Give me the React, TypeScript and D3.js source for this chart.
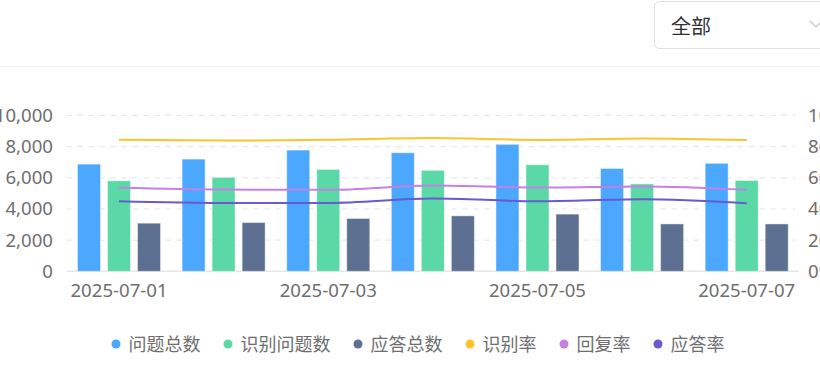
import React from "react";
import * as d3 from "d3";

const dates = ["2025-07-01", "2025-07-02", "2025-07-03", "2025-07-04", "2025-07-05", "2025-07-06", "2025-07-07"];
const totalQuestions = [6880, 7200, 7780, 7610, 8150, 6600, 6930];
const recognizedQuestions = [5810, 6030, 6540, 6480, 6840, 5610, 5830];
const totalAnswers = [3090, 3130, 3390, 3560, 3670, 3040, 3040];
const recognitionRate = [84.5, 83.9, 84.4, 85.5, 84.3, 85.2, 84.2];
const replyRate = [53.6, 52.5, 52.3, 55.1, 53.8, 54.5, 52.3];
const answerRate = [45.0, 43.9, 43.9, 46.7, 45.0, 46.3, 43.7];
const leftTicks = [0, 2000, 4000, 6000, 8000, 10000];
const rightTicks = [0, 20, 40, 60, 80, 100];
const xLabelIdx = [0, 2, 4, 6];

const barSeries = [
  { name: "问题总数", values: totalQuestions, color: "#4ca7ff" },
  { name: "识别问题数", values: recognizedQuestions, color: "#5ad8a6" },
  { name: "应答总数", values: totalAnswers, color: "#5d7092" },
];
const lineSeries = [
  { name: "识别率", values: recognitionRate, color: "#fbc52b" },
  { name: "回复率", values: replyRate, color: "#c580e6" },
  { name: "应答率", values: answerRate, color: "#6a59d1" },
];

const W = 820;
const H = 370;
const FONT = "'Noto Sans CJK SC', 'Noto Sans', sans-serif";
const NUM_FONT = "'Noto Sans', 'Noto Sans CJK SC', sans-serif";

export default function App() {
  const x = d3.scaleBand<string>().domain(dates).range([66.7, 799]).paddingInner(0).paddingOuter(0);
  const bw = x.bandwidth();
  const inner = d3
    .scaleBand<string>()
    .domain(barSeries.map((s) => s.name))
    .range([bw * 0.103, bw * 0.897])
    .paddingInner(0.2333)
    .paddingOuter(0);
  const yL = d3.scaleLinear().domain([0, 10000]).range([271.3, 115.5]);
  const yR = d3.scaleLinear().domain([0, 100]).range([271.3, 115.5]);
  const fmt = d3.format(",");
  const cx = (d: string) => (x(d) as number) + bw / 2;

  const line = d3
    .line<number>()
    .x((_, i) => cx(dates[i]))
    .y((v) => yR(v))
    .curve(d3.curveMonotoneX);

  const legendItems = [...barSeries, ...lineSeries];
  const fs = 18;
  const nfs = 18.6;
  let lx = 116;
  const legendPos = legendItems.map((it) => {
    const p = lx;
    lx += 12.5 + it.name.length * fs + 27.5;
    return p;
  });

  return (
    <svg
      width={W}
      height={H}
      style={{ position: "absolute", left: 0, top: 0, fontFamily: FONT }}
    >
      <rect x={0} y={0} width={W} height={H} fill="#fff" />
      {/* dropdown */}
      <rect x={654.5} y={1.5} width={200} height={47} rx={5} fill="#fff" stroke="#dcdfe6" />
      <text x={671} y={25} fontSize={20} fill="#303133" dominantBaseline="central">全部</text>
      <polyline points="810,21 816,27 822,21" fill="none" stroke="#c0c4cc" strokeWidth={1.2} />
      <line x1={0} x2={W} y1={66.5} y2={66.5} stroke="#ebeef5" />

      {/* grid */}
      {leftTicks.slice(1).map((t) => (
        <line key={t} x1={66.7} x2={795} y1={yL(t)} y2={yL(t)} stroke="#e3e3e3" strokeDasharray="5 6" />
      ))}
      <line x1={66.7} x2={799} y1={yL(0)} y2={yL(0)} stroke="#e6e6e6" strokeWidth={1.5} />

      {/* left axis labels */}
      {leftTicks.map((t) => (
        <text key={t} x={53} y={yL(t) + 6.5} textAnchor="end" fontSize={nfs} fontFamily={NUM_FONT} fill="#6e6e6e">
          {fmt(t)}
        </text>
      ))}
      {/* right axis labels */}
      {rightTicks.map((t) => (
        <text key={t} x={808} y={yR(t) + 6.5} textAnchor="start" fontSize={nfs} fontFamily={NUM_FONT} fill="#6e6e6e">
          {t}%
        </text>
      ))}
      {/* x labels */}
      {xLabelIdx.map((i) => (
        <text key={i} x={cx(dates[i])} y={297} textAnchor="middle" fontSize={nfs} fontFamily={NUM_FONT} fill="#6e6e6e">
          {dates[i]}
        </text>
      ))}

      {/* bars */}
      {barSeries.map((s) =>
        s.values.map((v, i) => {
          const bx = (x(dates[i]) as number) + (inner(s.name) as number);
          const by = yL(v);
          return (
            <rect
              key={s.name + i}
              x={bx}
              y={by}
              width={inner.bandwidth()}
              height={yL(0) - by}
              fill={s.color}
              stroke="rgba(255,255,255,0.45)"
              strokeWidth={1}
            />
          );
        })
      )}

      {/* lines */}
      {lineSeries.map((s) => (
        <path key={s.name} d={line(s.values) || ""} fill="none" stroke={s.color} strokeWidth={2} />
      ))}

      {/* legend */}
      {legendItems.map((it, i) => (
        <g key={it.name}>
          <circle cx={legendPos[i]} cy={344} r={4.5} fill={it.color} />
          <text x={legendPos[i] + 12.5} y={343} fontSize={fs} fill="#6e6e6e" dominantBaseline="central">
            {it.name}
          </text>
        </g>
      ))}
    </svg>
  );
}
